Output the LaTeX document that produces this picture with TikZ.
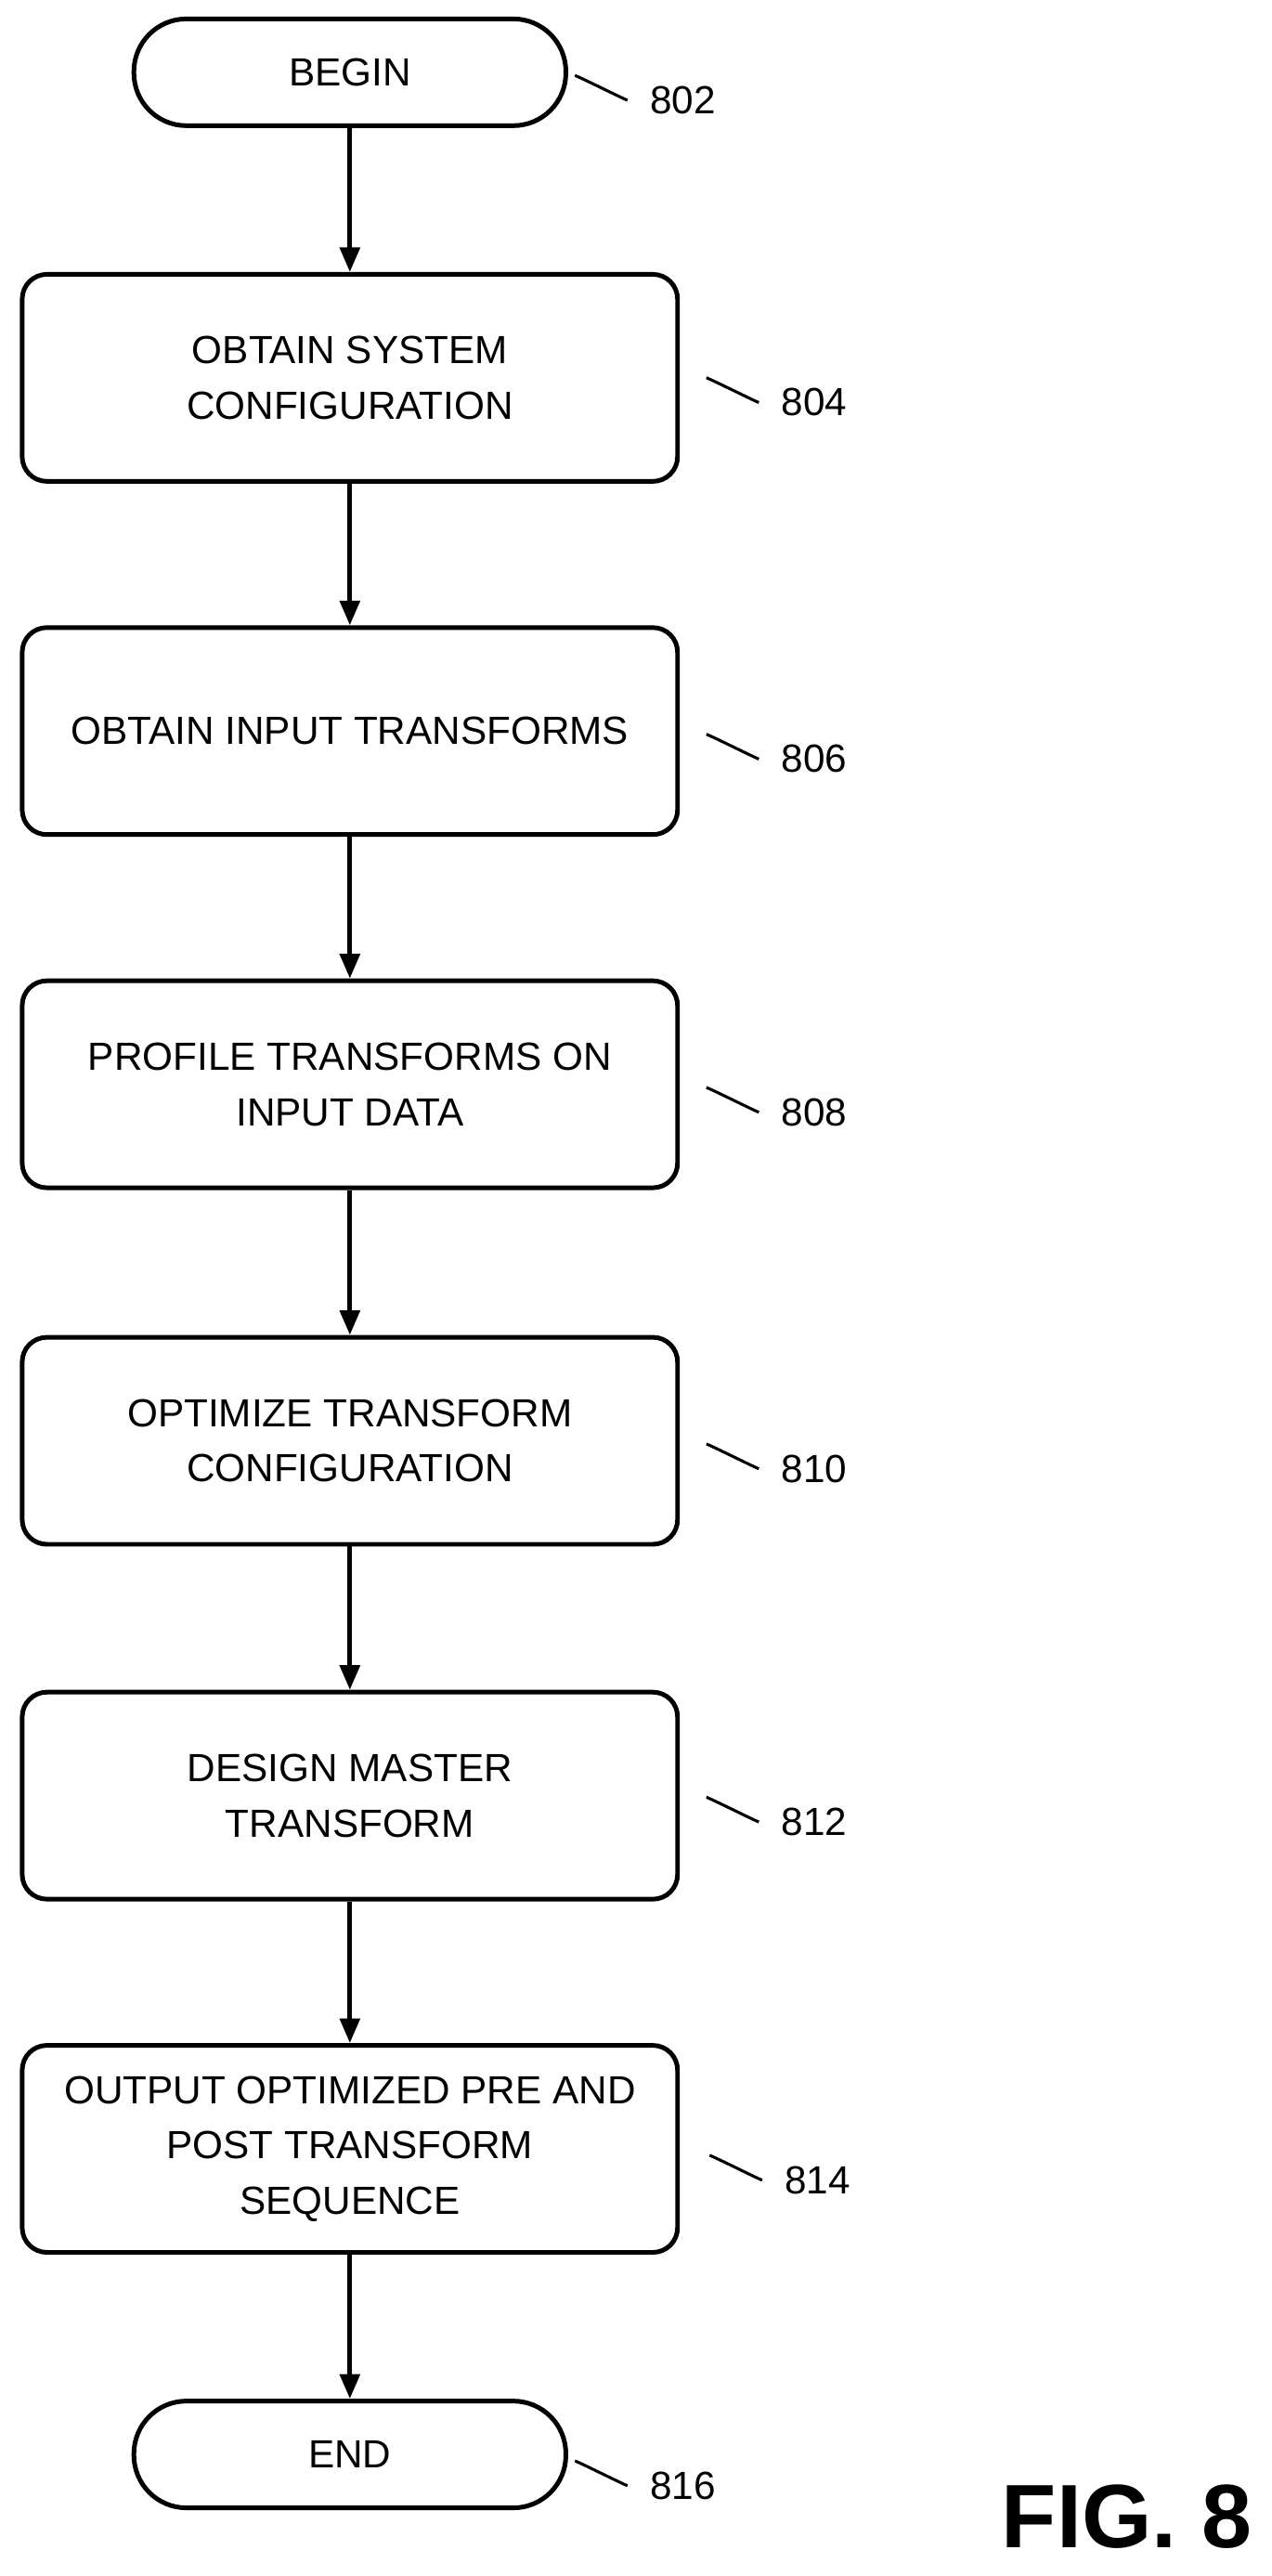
\documentclass[tikz,border=0pt]{standalone}
\usepackage{fontspec}
\setmainfont{Liberation Sans}
\usetikzlibrary{arrows.meta}

\begin{document}
\begin{tikzpicture}[x=0.05cm,y=-0.05cm,>={Triangle[length=0.75cm,width=0.6cm]},
  line width=4pt,
  stepbox/.style={draw,rounded corners=0.75cm,minimum width=19.95cm,minimum height=6.3cm,
    align=center,font=\fontsize{34}{48}\selectfont},
  termbox/.style={draw,rounded corners=1.6cm,minimum width=13.15cm,minimum height=3.25cm,
    font=\fontsize{34}{48}\selectfont},
  refnum/.style={font=\fontsize{34}{40}\selectfont,anchor=west}]
  \useasboundingbox (0,0) rectangle (774,1568);

  \node[termbox] (begin) at (213,44) {BEGIN};
  \node[stepbox] (804) at (213,230) {OBTAIN SYSTEM\\CONFIGURATION};
  \node[stepbox] (806) at (213,445) {OBTAIN INPUT TRANSFORMS};
  \node[stepbox] (808) at (213,660) {PROFILE TRANSFORMS ON\\INPUT DATA};
  \node[stepbox] (810) at (213,877) {OPTIMIZE TRANSFORM\\CONFIGURATION};
  \node[stepbox] (812) at (213,1093) {DESIGN MASTER\\TRANSFORM};
  \node[stepbox] (814) at (213,1308) {OUTPUT OPTIMIZED PRE AND\\POST TRANSFORM\\SEQUENCE};
  \node[termbox] (end) at (213,1494) {END};

  \draw[->] (begin) -- (804);
  \draw[->] (804) -- (806);
  \draw[->] (806) -- (808);
  \draw[->] (808) -- (810);
  \draw[->] (810) -- (812);
  \draw[->] (812) -- (814);
  \draw[->] (814) -- (end);

  % reference numerals
  \foreach \n/\x/\y in {802/350/46, 804/430/230, 806/430/447, 808/430/662, 810/430/879, 812/430/1094, 814/432/1312, 816/350/1498}{
    \draw[line width=2.5pt] (\x,\y) .. controls +(0.2,-0.5) and +(-0.9,0) .. +(32,15) coordinate (s\n);
    \node[refnum] (l\n) at ([xshift=0.5cm]s\n) {\n};
  }

  \node[font=\bfseries\fontsize{78}{90}\selectfont] (fig) at (686,1532) {FIG. 8};
\end{tikzpicture}
\end{document}
